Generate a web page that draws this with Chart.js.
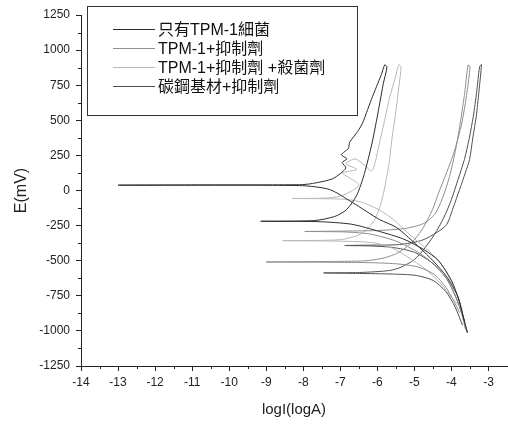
<!DOCTYPE html>
<html>
<head>
<meta charset="utf-8">
<style>
    html, body { margin: 0; padding: 0; background: #fff; }
    #polar-chart { display: block; }
</style>
</head>
<body>
<canvas id="polar-chart" width="508" height="425"></canvas>

<script src="https://cdn.jsdelivr.net/npm/chart.js"></script>
<script>
// polarization curves: logI (x) against E in mV (y), forward sweep then reverse sweep
const labels = ['只有TPM-1細菌', 'TPM-1+抑制劑', 'TPM-1+抑制劑 +殺菌劑', '碳鋼基材+抑制劑'];

const s1LogI = [-3.57, -3.68, -3.82, -4.13, -4.5, -4.86, -5.48, -5.94, -6.67, -7.29, -8.1, -13.0, -8.1, -7.75, -7.2, -6.85, -6.95, -6.82, -6.97, -6.78, -6.75, -6.53, -6.4, -6.29, -6.16, -6.02, -5.89, -5.8,
    -5.74, -5.84, -5.95, -6.05, -6.15, -6.35, -6.55, -6.83, -7.15, -7.7, -9.15, -7.6, -6.7, -5.94, -5.3, -4.75, -4.35, -4.0, -3.8, -3.65];
const s1E = [-1010, -900, -760, -613, -500, -407, -264, -207, -86, 7, 35, 38, 41, 50, 85, 160, 200, 225, 255, 300, 342, 421, 480, 556, 649, 742, 827, 895,
    880, 760, 600, 460, 330, 120, -30, -136, -185, -214, -219, -222, -240, -292, -345, -420, -500, -640, -780, -930];

const s2LogI = [-3.62, -3.72, -3.88, -4.1, -4.45, -4.9, -5.5, -6.2, -6.9, -7.96, -6.9, -5.9, -5.2, -4.75, -4.45, -4.25, -4.05, -3.88, -3.75, -3.64, -3.55,
    -3.5, -3.58, -3.72, -3.92, -4.13, -4.35, -4.51, -4.75, -5.0, -5.3, -5.54, -5.9, -6.4, -9.0, -6.4, -5.5, -4.9, -4.45, -4.15, -3.95, -3.78];
const s2E = [-990, -880, -760, -640, -530, -440, -360, -310, -295, -292, -289, -284, -268, -235, -170, -60, 100, 300, 500, 700, 895,
    880, 700, 480, 280, 128, -20, -135, -260, -350, -420, -456, -485, -502, -509, -513, -522, -545, -600, -690, -780, -870];

const s3LogI = [-3.92, -4.1, -4.32, -4.7, -5.13, -5.55, -5.94, -6.4, -6.9, -8.3, -7.4, -7.0, -6.7, -6.5, -6.75, -6.95, -6.55, -6.85, -6.6, -6.35, -6.15, -6.05, -5.95, -5.82, -5.68, -5.52, -5.42,
    -5.36, -5.42, -5.5, -5.6, -5.68, -5.78, -5.9, -6.1, -6.45, -7.0, -8.56, -7.0, -6.1, -5.6, -5.2, -4.7, -4.3, -4.0, -3.7];
const s3E = [-690, -600, -506, -410, -314, -210, -140, -85, -62, -57, -54, -40, -5, 40, 90, 125, 150, 190, 225, 180, 140, 210, 330, 480, 650, 800, 895,
    880, 740, 560, 380, 200, 50, -90, -220, -310, -350, -357, -361, -372, -410, -470, -560, -660, -760, -850];

const s4LogI = [-3.57, -3.7, -3.88, -4.15, -4.55, -5.0, -5.6, -6.2, -6.88, -6.2, -5.4, -4.8, -4.4, -4.13, -3.95, -3.78, -3.62, -3.51, -3.42, -3.33, -3.26, -3.19,
    -3.24, -3.32, -3.41, -3.52, -3.65, -3.82, -4.0, -4.2, -4.46, -4.75, -5.0, -5.35, -5.67, -6.48, -7.45, -6.48, -5.6, -4.95, -4.5, -4.15, -3.9, -3.7];
const s4E = [-1015, -890, -760, -620, -510, -440, -405, -395, -392, -389, -385, -355, -300, -243, -120, 7, 130, 221, 380, 528, 700, 897,
    880, 700, 528, 370, 221, 80, -64, -190, -314, -420, -492, -545, -570, -584, -587, -591, -595, -605, -640, -720, -830, -960];

const xTicks = [-14, -13, -12, -11, -10, -9, -8, -7, -6, -5, -4, -3];
const yTicks = [-1250, -1000, -750, -500, -250, 0, 250, 500, 750, 1000, 1250];

const colors = ['#2b2b2b', '#8e8e8e', '#b8b8b8', '#505050'];

function toPoints(xs, ys) {
    return xs.map(function(x, i) { return { x: x, y: ys[i] }; });
}

const series = [
    toPoints(s1LogI, s1E),
    toPoints(s2LogI, s2E),
    toPoints(s3LogI, s3E),
    toPoints(s4LogI, s4E),
];

const datasets = series.map(function(points, i) {
    return {
        label: labels[i],
        data: points,
        borderColor: colors[i],
        borderWidth: 1,
        pointRadius: 0,
        tension: 0.25,
        fill: false,
    };
});

// legend box in the upper left, plus the short minor ticks
const boxLegend = {
    id: 'boxLegend',
    afterDraw(chart) {
        const ctx = chart.ctx;
        const area = chart.chartArea;
        const xs = chart.scales.x;
        const ys = chart.scales.y;

        ctx.save();
        ctx.strokeStyle = '#222';
        ctx.lineWidth = 1;
        ctx.beginPath();
        for (let v = -1125; v < 1250; v += 250) {
            const py = Math.round(ys.getPixelForValue(v)) + 0.5;
            ctx.moveTo(area.left - 3, py);
            ctx.lineTo(area.left, py);
        }
        for (let v = -13.5; v < -2.6; v += 1) {
            const px = Math.round(xs.getPixelForValue(v)) + 0.5;
            ctx.moveTo(px, area.bottom);
            ctx.lineTo(px, area.bottom + 3);
        }
        ctx.stroke();

        ctx.fillStyle = '#fff';
        ctx.fillRect(87.5, 6.5, 270, 109);
        ctx.strokeStyle = '#333';
        ctx.strokeRect(87.5, 6.5, 270, 109);

        ctx.font = '16px "Liberation Sans", "Noto Sans CJK TC"';
        ctx.textBaseline = 'middle';
        chart.data.datasets.forEach(function(ds, i) {
            const y = 29.5 + i * 19;
            ctx.strokeStyle = ds.borderColor;
            ctx.beginPath();
            ctx.moveTo(113, y);
            ctx.lineTo(155, y);
            ctx.stroke();
            ctx.fillStyle = '#111';
            ctx.fillText(ds.label, 158, y + 1);
        });
        ctx.restore();
    }
};

const tickFont = { family: '"Liberation Sans", Arial, sans-serif', size: 12 };
const titleFont = { family: '"Liberation Sans", Arial, sans-serif', size: 15 };

const config = {
    type: 'line',
    data: { datasets: datasets },
    options: {
        responsive: false,
        animation: false,
        devicePixelRatio: 1,
        layout: { padding: { top: 15, right: 1, left: 0, bottom: 0 } },
        plugins: {
            legend: { display: false },
            tooltip: { enabled: false },
        },
        scales: {
            x: {
                type: 'linear',
                min: -14,
                max: -2.5,
                afterBuildTicks: function(scale) {
                    scale.ticks = xTicks.map(function(v) { return { value: v }; });
                },
                afterFit: function(scale) { scale.height = 59; },
                grid: { drawOnChartArea: false, tickLength: 5, color: '#222' },
                border: { color: '#222', width: 1 },
                ticks: {
                    color: '#222', font: tickFont, padding: 4, maxRotation: 0, autoSkip: false,
                    callback: function(value) { return String(value); },
                },
                title: { display: true, text: 'logI(logA)', color: '#222', font: titleFont, padding: { top: 0, bottom: 6 } },
            },
            y: {
                type: 'linear',
                min: -1250,
                max: 1250,
                afterBuildTicks: function(scale) {
                    scale.ticks = yTicks.map(function(v) { return { value: v }; });
                },
                afterFit: function(scale) { scale.width = 81; },
                grid: { drawOnChartArea: false, tickLength: 5, color: '#222' },
                border: { color: '#222', width: 1 },
                ticks: {
                    color: '#222', font: tickFont, padding: 6, autoSkip: false,
                    callback: function(value) { return String(value); },
                },
                title: { display: true, text: 'E(mV)', color: '#222', font: { family: titleFont.family, size: 16 }, padding: { top: 12, bottom: 0 } },
            },
        },
    },
    plugins: [boxLegend],
};

const ctx = document.getElementById('polar-chart').getContext('2d');
new Chart(ctx, config);
</script>
</body>
</html>
